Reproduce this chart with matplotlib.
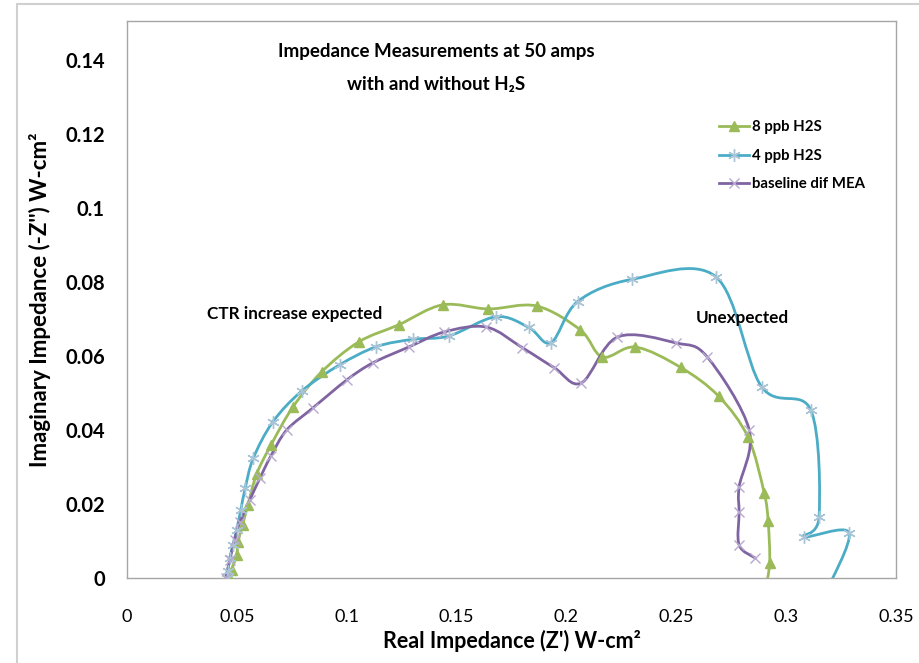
import numpy as np
import matplotlib.pyplot as plt
from matplotlib.path import Path
from matplotlib.patches import PathPatch, Rectangle
from matplotlib.lines import Line2D

plt.rcParams['font.family'] = ['Lato', 'DejaVu Sans']

# 8 ppb H2S
x_8ppb = [0.0466, 0.0476, 0.0499, 0.0505, 0.0526, 0.0550, 0.0590, 0.0655, 0.0755, 0.0886,
          0.1055, 0.1236, 0.1436, 0.1645, 0.1864, 0.2064, 0.2164, 0.2314, 0.2520, 0.2693,
          0.2827, 0.2900, 0.2918, 0.2925, 0.2905]
y_8ppb = [0.0003, 0.0022, 0.0062, 0.0097, 0.0143, 0.0197, 0.0281, 0.0359, 0.0462, 0.0557,
          0.0638, 0.0684, 0.0738, 0.0727, 0.0735, 0.0670, 0.0597, 0.0624, 0.0569, 0.0491,
          0.0380, 0.0230, 0.0153, 0.0041, -0.0030]

# 4 ppb H2S
x_4ppb = [0.0453, 0.0459, 0.0468, 0.0482, 0.0499, 0.0518, 0.0538, 0.0575, 0.0664, 0.0795,
          0.0968, 0.1135, 0.1302, 0.1465, 0.1680, 0.1829, 0.1930, 0.2051, 0.2299, 0.2680,
          0.2888, 0.3112, 0.3150, 0.3082, 0.3286, 0.3180]
y_4ppb = [0.0000, 0.0019, 0.0054, 0.0089, 0.0130, 0.0184, 0.0243, 0.0324, 0.0422, 0.0505,
          0.0576, 0.0625, 0.0645, 0.0654, 0.0706, 0.0677, 0.0636, 0.0747, 0.0807, 0.0814,
          0.0517, 0.0454, 0.0166, 0.0112, 0.0122, -0.0040]

# baseline dif MEA
x_base = [0.0449, 0.0468, 0.0490, 0.0514, 0.0559, 0.0605, 0.0655, 0.0727, 0.0845, 0.1000,
          0.1118, 0.1282, 0.1445, 0.1636, 0.1800, 0.1945, 0.2068, 0.2232, 0.2500, 0.2641,
          0.2832, 0.2786, 0.2786, 0.2786, 0.2859]
y_base = [0.0000, 0.0049, 0.0103, 0.0151, 0.0211, 0.0270, 0.0330, 0.0400, 0.0459, 0.0535,
          0.0581, 0.0624, 0.0665, 0.0678, 0.0622, 0.0568, 0.0527, 0.0651, 0.0635, 0.0597,
          0.0400, 0.0246, 0.0178, 0.0089, 0.0054]

x_ticks = [0, 0.05, 0.1, 0.15, 0.2, 0.25, 0.3, 0.35]
x_labels = ['0', '0.05', '0.1', '0.15', '0.2', '0.25', '0.3', '0.35']
y_ticks = [0, 0.02, 0.04, 0.06, 0.08, 0.1, 0.12, 0.14]
y_labels = ['0', '0.02', '0.04', '0.06', '0.08', '0.1', '0.12', '0.14']


def smooth_path(x, y):
    # excel style smoothed line: cubic bezier through every point
    pts = np.column_stack([x, y])
    n = len(pts)
    verts = [pts[0]]
    codes = [Path.MOVETO]
    for i in range(n - 1):
        p0 = pts[max(i - 1, 0)]
        p1 = pts[i]
        p2 = pts[i + 1]
        p3 = pts[min(i + 2, n - 1)]
        verts += [p1 + (p2 - p0) / 6, p2 - (p3 - p1) / 6, p2]
        codes += [Path.CURVE4] * 3
    return Path(verts, codes)


fig = plt.figure(figsize=(9.2, 6.63), dpi=100)
ax = fig.add_axes([127 / 920, 85 / 663, 769 / 920, 557 / 663])

series = [
    (x_8ppb, y_8ppb, '8 ppb H2S', '#9BBB59', '^', '#9BBB59', 7),
    (x_4ppb, y_4ppb, '4 ppb H2S', '#4BACC6', (6, 2, 0), '#A9C4D6', 9),
    (x_base, y_base, 'baseline dif MEA', '#8064A2', 'x', '#B7A9CF', 7),
]
handles = []
for x, y, label, color, marker, mcolor, ms in series:
    ax.add_patch(PathPatch(smooth_path(x, y), fill=False, edgecolor=color, lw=2, zorder=2))
    ax.plot(x, y, ls='none', marker=marker, ms=ms, color=mcolor, mec=mcolor, mew=1, zorder=3)
    handles.append(Line2D([], [], color=color, lw=2, marker=marker, ms=ms,
                          mfc=mcolor, mec=mcolor, mew=1))

ax.set_xlim(0, 0.35)
ax.set_ylim(0, 0.1505)
ax.set_xticks(x_ticks)
ax.set_xticklabels(x_labels)
ax.set_yticks(y_ticks)
ax.set_yticklabels(y_labels, fontweight='bold')
ax.tick_params(axis='x', length=0, pad=22, labelsize=13)
ax.tick_params(axis='y', length=0, pad=16, labelsize=14.5)
for s in ax.spines.values():
    s.set_color('#A6A6A6')
    s.set_linewidth(1)

ax.set_xlabel("Real Impedance (Z') W-cm²", fontsize=15.5, fontweight='bold', labelpad=4)
ax.set_ylabel("Imaginary Impedance (-Z'') W-cm²", fontsize=16, fontweight='bold', labelpad=10)

fig.text(436 / 920, 1 - 52 / 663, 'Impedance Measurements at 50 amps', ha='center', va='center',
         fontsize=13.5, fontweight='bold')
fig.text(436 / 920, 1 - 84 / 663, 'with and without H₂S', ha='center', va='center',
         fontsize=13.5, fontweight='bold')

ax.text(0.0365, 0.0714, 'CTR increase expected', fontsize=12.3, fontweight='bold', va='center')
ax.text(0.2590, 0.0703, 'Unexpected', fontsize=12.3, fontweight='bold', va='center')

fig.legend(handles, [s[2] for s in series], loc='upper left',
           bbox_to_anchor=(712 / 920, 1 - 113 / 663), frameon=False,
           prop={'size': 10.8, 'weight': 'bold'}, handlelength=2.0,
           handletextpad=0.2, labelspacing=0.95, borderpad=0)

fig.patches.append(Rectangle((17 / 920, -0.05), 1.0, 1 - 4 / 663 + 0.05, transform=fig.transFigure,
                             fill=False, edgecolor='#D0D0D0', lw=1.5))

fig.savefig('out.png', dpi=100)
